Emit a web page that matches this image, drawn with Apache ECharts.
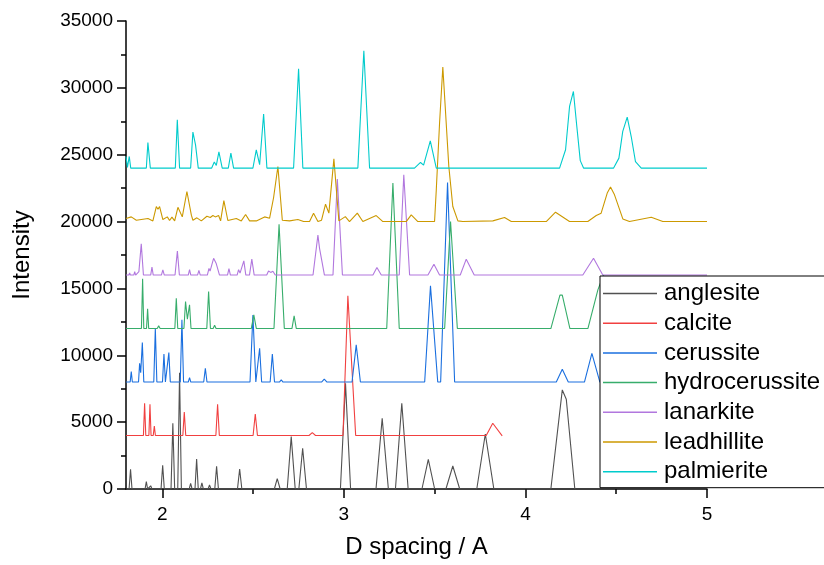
<!DOCTYPE html>
<html>
<head>
<meta charset="utf-8">
<script src="https://cdn.jsdelivr.net/npm/echarts@6/dist/echarts.min.js"></script>
<style>html,body{margin:0;padding:0;background:#fff}#c{width:824px;height:565px}</style>
</head>
<body>
<div id="c"></div>
<script>
const seriesNames = ['anglesite','calcite','cerussite','hydrocerussite','lanarkite','leadhillite','palmierite'];
const seriesColors = ['#515151','#F14040','#1A6FDF','#37AD6B','#B177DE','#CC9900','#00CBCC'];
const xTickLabels = [2,3,4,5];
const xMinorTicks = [2.5,3.5,4.5];

const anglesite = [[1.8,0],[1.817,0],[1.825,1470],[1.833,0],[1.905,0],[1.912,550],[1.919,0],[1.929,0],[1.936,240],[1.943,0],
[1.993,0],[2.002,1770],[2.011,0],[2.048,0],[2.058,4920],[2.068,0],[2.085,0],[2.095,8700],[2.105,0],
[2.148,0],[2.156,420],[2.164,0],[2.180,0],[2.189,2245],[2.198,0],[2.210,0],[2.218,460],[2.226,0],
[2.252,0],[2.260,300],[2.268,0],[2.289,0],[2.299,1700],[2.309,0],[2.368,0],[2.376,100],[2.384,0],
[2.414,0],[2.426,1500],[2.438,0],[2.617,0],[2.633,770],[2.649,0],[2.688,0],[2.710,3915],[2.732,0],
[2.752,0],[2.773,3045],[2.794,0],[2.981,0],[3.009,7900],[3.037,0],[3.177,0],[3.211,5290],[3.245,0],
[3.284,0],[3.319,6410],[3.354,0],[3.430,0],[3.465,2220],[3.500,0],[3.562,0],[3.600,1720],[3.638,0],
[3.732,0],[3.779,4115],[3.826,0],[4.140,0],[4.203,7410],[4.225,6710],[4.272,0],[4.276,0]];

const calcite = [[1.8,4000],[1.896,4000],[1.9025,6410],[1.909,4000],[1.926,4000],[1.932,6340],[1.938,4000],
[1.950,4000],[1.956,4715],[1.962,4000],[2.113,4000],[2.121,5760],[2.129,4000],[2.295,4000],[2.3045,6340],[2.314,4000],
[2.500,4000],[2.512,5610],[2.524,4000],[2.808,4000],[2.826,4210],[2.844,4000],
[2.995,4000],[3.022,14450],[3.033,14400],[3.065,4000],[3.784,4000],[3.820,4916],[3.872,3970]];

const cerussite = [[1.8,8000],[1.823,8000],[1.829,8790],[1.835,8000],[1.869,8000],[1.875,9400],[1.881,8700],[1.890,10950],[1.898,8000],
[1.953,8000],[1.9615,12000],[1.970,8000],[2.001,8000],[2.009,10100],[2.017,8000],[2.028,8000],[2.036,10200],[2.044,8000],
[2.099,8000],[2.108,12650],[2.117,8000],[2.143,8000],[2.150,8330],[2.157,8000],[2.228,8000],[2.237,9030],[2.246,8000],
[2.483,8000],[2.499,13020],[2.515,8000],[2.525,8000],[2.536,10530],[2.547,8000],[2.594,8000],[2.606,10100],[2.618,8000],
[2.645,8000],[2.655,8160],[2.665,8000],[2.877,8000],[2.892,8210],[2.907,8000],[3.045,8000],[3.068,10775],[3.091,8000],
[3.445,8000],[3.477,15190],[3.517,8000],[3.533,8000],[3.571,22920],[3.610,8000],
[4.170,8000],[4.203,8957],[4.236,8000],[4.325,8000],[4.366,10150],[4.410,8000],[5.0,8000]];

const hydrocerussite = [[1.8,12000],[1.885,12000],[1.8915,15730],[1.898,12000],[1.913,12000],[1.919,13480],[1.925,12000],
[1.972,12000],[1.980,12200],[1.988,12000],[2.069,12000],[2.077,14270],[2.085,12000],
[2.119,12000],[2.128,14015],[2.138,12700],[2.150,13770],[2.158,12000],[2.245,12000],[2.255,14770],[2.265,12000],
[2.280,12000],[2.288,12250],[2.296,12000],[2.490,12000],[2.504,13020],[2.518,12000],
[2.615,12000],[2.643,19800],[2.672,12000],[2.714,12000],[2.726,12945],[2.738,12000],
[3.236,12000],[3.270,22875],[3.305,12000],[3.555,12000],[3.5875,20000],[3.625,12000],
[4.140,12000],[4.190,14500],[4.203,14500],[4.245,12000],[4.344,12000],[4.399,14890],[4.430,16000],[4.480,12000],[5.0,12000]];

const lanarkite = [[1.8,16000],[1.816,16000],[1.820,16150],[1.824,16000],[1.843,16000],[1.848,16250],[1.853,16000],
[1.857,16000],[1.871,16250],[1.884,18330],[1.896,16000],[1.936,16000],[1.943,16590],[1.950,16000],
[1.995,16000],[2.003,16390],[2.011,16000],[2.034,16000],[2.040,16100],[2.046,16000],[2.070,16000],[2.083,17800],[2.094,16000],
[2.143,16000],[2.150,16400],[2.157,16000],[2.194,16000],[2.2015,16350],[2.209,16000],
[2.248,16000],[2.257,16500],[2.263,16300],[2.2825,17250],[2.297,16860],[2.315,16000],[2.359,16000],[2.367,16475],[2.375,16000],
[2.412,16000],[2.420,16400],[2.428,16150],[2.449,17060],[2.460,16000],[2.480,16000],[2.493,17190],[2.506,16000],
[2.575,16000],[2.585,16300],[2.597,16200],[2.609,16280],[2.622,16000],[2.830,16000],[2.857,19000],[2.866,18000],[2.893,16000],
[2.940,16000],[2.964,23175],[2.992,16000],[3.160,16000],[3.182,16560],[3.206,16000],[3.305,16000],[3.330,23500],[3.362,16000],
[3.463,16000],[3.496,16815],[3.527,16000],[3.641,16000],[3.674,17190],[3.718,16000],[4.316,16000],[4.375,17260],[4.426,16000],[5.0,16000]];

const leadhillite = [[1.8,20230],[1.829,20350],[1.857,20100],[1.921,20230],[1.948,20050],[1.967,21125],[1.976,20920],[1.985,21125],
[2.003,20150],[2.0275,20350],[2.040,20080],[2.053,20330],[2.068,20050],[2.086,21070],[2.110,20350],[2.1355,22250],[2.160,20480],
[2.1685,20100],[2.1905,20280],[2.2148,20050],[2.2456,20400],[2.2643,20300],[2.2786,20450],[2.2918,20350],[2.310,20450],[2.321,20050],
[2.339,21570],[2.361,20080],[2.4075,20230],[2.435,20050],[2.4587,20530],[2.4807,20050],[2.5176,20050],[2.5633,20350],[2.591,20250],
[2.613,21800],[2.6366,24120],[2.661,20100],[2.701,20050],[2.7467,20150],[2.778,20000],[2.811,20000],[2.833,20630],[2.857,20000],
[2.877,20100],[2.899,21300],[2.9174,20630],[2.945,24690],[2.9725,20050],[3.008,20370],[3.031,20000],[3.074,20630],[3.1046,20000],
[3.178,20450],[3.2148,20000],[3.3436,20000],[3.371,20500],[3.4075,20000],[3.4995,20000],[3.509,22375],[3.527,27360],[3.545,31555],
[3.578,24120],[3.600,21125],[3.628,20050],[3.655,20000],[3.8205,20050],[3.885,20300],[3.922,20000],[4.1146,20000],[4.1657,20700],
[4.2428,20000],[4.3436,20000],[4.390,20450],[4.417,20630],[4.4505,22130],[4.4686,22580],[4.4906,22000],[4.5364,20200],[4.573,20000],
[4.693,20320],[4.7566,20000],[5.0,20000]];

const palmierite = [[1.8,24870],[1.808,24050],[1.818,24870],[1.826,24000],[1.873,24000],[1.879,24100],[1.885,24000],
[1.912,24000],[1.9206,25915],[1.934,24000],[2.0716,24000],[2.0826,27612],[2.095,24000],
[2.156,24000],[2.1685,26690],[2.183,25740],[2.198,24000],[2.272,24000],[2.2863,24450],[2.2974,24200],[2.3117,25218],[2.330,24000],
[2.3634,24000],[2.3777,25120],[2.3926,24000],[2.499,24000],[2.5176,25367],[2.536,24250],[2.558,28040],[2.576,24000],
[2.723,24000],[2.7505,31430],[2.774,24000],[3.077,24000],[3.110,32775],[3.1415,24000],
[3.389,24000],[3.422,24420],[3.439,24220],[3.476,26040],[3.509,24000],
[4.188,24000],[4.221,25370],[4.243,28610],[4.2642,29730],[4.283,27110],[4.302,24560],[4.320,24000],
[4.4856,24000],[4.5148,24745],[4.536,26740],[4.5606,27815],[4.5826,26360],[4.606,24490],[4.638,24000],[5.0,24000]];

const seriesData = [anglesite, calcite, cerussite, hydrocerussite, lanarkite, leadhillite, palmierite];
const FONT = "'Liberation Sans', Arial, sans-serif";

const chart = echarts.init(document.getElementById('c'), null, {renderer: 'canvas'});
chart.setOption({
  animation: false,
  backgroundColor: '#fff',
  textStyle: {fontFamily: FONT, color: '#000'},
  grid: {left: 126, right: 117, top: 21, bottom: 76, containLabel: false},
  xAxis: [{
    type: 'value', min: 1.8, max: 5,
    name: 'D spacing / A', nameLocation: 'middle', nameGap: 46,
    nameTextStyle: {fontSize: 24, color: '#000', fontFamily: FONT},
    axisLine: {show: true, onZero: false, lineStyle: {color: '#000', width: 1.5}},
    axisTick: {show: true, customValues: xTickLabels, length: 9, lineStyle: {color: '#000', width: 1.5}},
    axisLabel: {customValues: xTickLabels, fontSize: 19, color: '#000', margin: 16, fontFamily: FONT},
    splitLine: {show: false}
  }, {
    type: 'value', min: 1.8, max: 5, position: 'bottom',
    axisLine: {show: false},
    axisTick: {show: true, customValues: xMinorTicks, length: 5, lineStyle: {color: '#000', width: 1.5}},
    axisLabel: {show: false},
    splitLine: {show: false}
  }],
  yAxis: {
    type: 'value', min: 0, max: 35000, interval: 5000,
    name: 'Intensity', nameLocation: 'middle', nameGap: 92, nameRotate: 90,
    nameTextStyle: {fontSize: 24, color: '#000', fontFamily: FONT},
    axisLine: {show: true, lineStyle: {color: '#000', width: 1.5}},
    axisTick: {show: true, length: 9, lineStyle: {color: '#000', width: 1.5}},
    minorTick: {show: true, splitNumber: 2, length: 5, lineStyle: {color: '#000', width: 1.5}},
    axisLabel: {fontSize: 19, color: '#000', margin: 13, fontFamily: FONT, formatter: v => String(v)},
    splitLine: {show: false}
  },
  legend: {
    orient: 'vertical', left: 600, top: 276,
    data: seriesNames.map(n => ({name: n, icon: 'rect'})), selectedMode: false,
    backgroundColor: '#fff', borderColor: '#000', borderWidth: 1,
    padding: [5.5, 30, 4, 3],
    itemWidth: 54, itemHeight: 1.5, itemGap: 5.7,
    textStyle: {fontSize: 24, color: '#000', fontFamily: FONT, lineHeight: 24, padding: [0, 0, 0, 2]}
  },
  series: seriesNames.map((n, i) => ({
    name: n, type: 'line', data: seriesData[i], xAxisIndex: 0,
    symbol: 'none', showSymbol: false, smooth: false,
    color: seriesColors[i],
    lineStyle: {color: seriesColors[i], width: 1.1},
    emphasis: {disabled: true}
  }))
});
</script>
</body>
</html>
